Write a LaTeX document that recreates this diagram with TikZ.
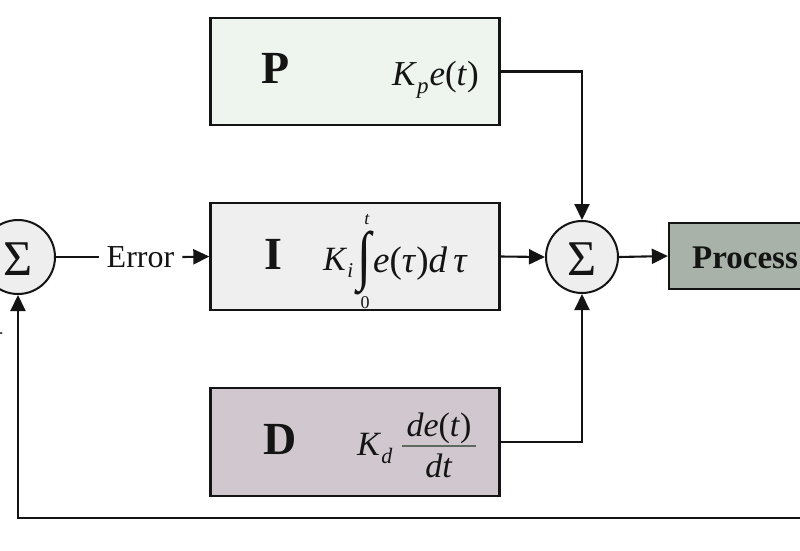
\documentclass[tikz,border=0pt]{standalone}
\usepackage{fontspec}
\setmainfont{Liberation Serif}
\usetikzlibrary{arrows.meta,backgrounds}
\definecolor{pfill}{RGB}{238,245,238}
\definecolor{ifill}{RGB}{239,239,239}
\definecolor{dfill}{RGB}{208,200,206}
\definecolor{procfill}{RGB}{169,178,169}
\definecolor{sumfill}{RGB}{238,238,238}
\definecolor{ink}{RGB}{20,20,20}
\definecolor{barcol}{RGB}{95,105,95}
\begin{document}
\begin{tikzpicture}[x=1pt,y=-1pt,
  blockbox/.style={draw=ink,line width=2.3pt,inner sep=0pt},
  sumnode/.style={circle,draw=ink,line width=2pt,fill=sumfill,inner sep=0pt},
  sigma/.style={font=\fontsize{50}{50}\selectfont,inner sep=0pt,text=ink},
  conn/.style={draw=ink,line width=2.1pt},
  arr/.style={conn,-{Triangle[length=16pt,width=15pt]}},
  bigletter/.style={font=\fontsize{46}{46}\selectfont\bfseries,inner sep=0pt,text=ink},
  mathtxt/.style={font=\fontsize{34}{34}\selectfont,inner sep=0pt,text=ink},
  limtxt/.style={font=\fontsize{18}{18}\selectfont,inner sep=0pt,text=ink},
]
\useasboundingbox (0,0) rectangle (800,550);
\fill[white] (0,0) rectangle (800,550);

% blocks
\node[blockbox,fill=pfill,minimum width=289pt,minimum height=107pt] (P) at (355,71.5) {};
\node[blockbox,fill=ifill,minimum width=289pt,minimum height=107pt] (I) at (355,256.5) {};
\node[blockbox,fill=dfill,minimum width=289pt,minimum height=108pt] (D) at (355,442) {};
\node[blockbox,fill=procfill,minimum width=161pt,minimum height=66pt] (proc) at (749.5,256) {};
\node[font=\fontsize{33}{33}\selectfont\bfseries,anchor=base west,inner sep=0pt,text=ink] (proctxt) at (692,268) {Process};

% summing junctions
\node[sumnode,minimum size=74pt] (sumL) at (18,257) {};
\node[sigma] (sigL) at (18,259) {Σ};
\node[sumnode,minimum size=72pt] (sumR) at (582,257) {};
\node[sigma] (sigR) at (582,259) {Σ};

% error node
\node[font=\fontsize{32}{32}\selectfont,fill=white,inner xsep=8pt,inner ysep=4pt,text=ink] (err) at (140.5,257) {Error};
\coordinate (brc) at (142,257);

% branch lines behind the Error label
\begin{pgfonlayer}{background}
\draw[arr] (brc) |- (P.west);
\draw[arr] (brc) |- (D.west);
\end{pgfonlayer}

% connectors
\draw[conn] (sumL.east) -- (err.west);
\draw[arr] (err.east) -- (I.west);
\draw[arr] (I.east) -- (sumR.west);
\draw[arr] (P.east) -| (sumR.north);
\draw[arr] (D.east) -| (sumR.south);
\draw[arr] (sumR.east) -- (proc.west);
\coordinate (fbend) at (800,518);
\draw[arr] (fbend) -| (sumL.south);
\node[font=\fontsize{30}{30}\selectfont,anchor=east,inner sep=0pt,text=ink] (minus) at (4,338) {−};

% block letters
\node[bigletter,anchor=base] (Pl) at (276,83) {P};
\node[bigletter,anchor=base] (Il) at (273,269) {I};
\node[bigletter,anchor=base] (Dl) at (280,454) {D};

% P formula
\node[mathtxt,font=\fontsize{35}{35}\selectfont,anchor=base west] (pf) at (392,85) {\textit{K}\raisebox{-8pt}{\fontsize{23}{23}\selectfont\textit{p}\hspace{1pt}}\textit{e}(\textit{t})};

% I formula
\node[mathtxt,anchor=base west] (ik) at (323,270) {\textit{K}\raisebox{-7pt}{\fontsize{21}{21}\selectfont\textit{i}}};
\node[inner sep=0pt,text=ink] (intg) at (364,263) {\resizebox*{14pt}{64pt}{\fontsize{40}{40}\selectfont ∫}};
\node[limtxt,anchor=base] (itop) at (367,224) {\textit{t}};
\node[limtxt,anchor=base] (ibot) at (365,308) {0};
\node[inner sep=0pt,font=\fontsize{37}{37}\selectfont,text=ink,anchor=base west] (ie) at (373,272) {\textit{e}(\textit{τ})\textit{d}\,\textit{τ}};

% D formula
\node[mathtxt,anchor=base west] (dk) at (357,455) {\textit{K}\raisebox{-8pt}{\fontsize{22}{22}\selectfont\textit{d}}};
\node[mathtxt,anchor=base] (dnum) at (439,436) {\textit{de}(\textit{t})};
\draw[barcol,line width=1.6pt] (402,446) -- (476,446);
\node[mathtxt,anchor=base] (dden) at (439,477) {\textit{dt}};
\end{tikzpicture}
\end{document}
